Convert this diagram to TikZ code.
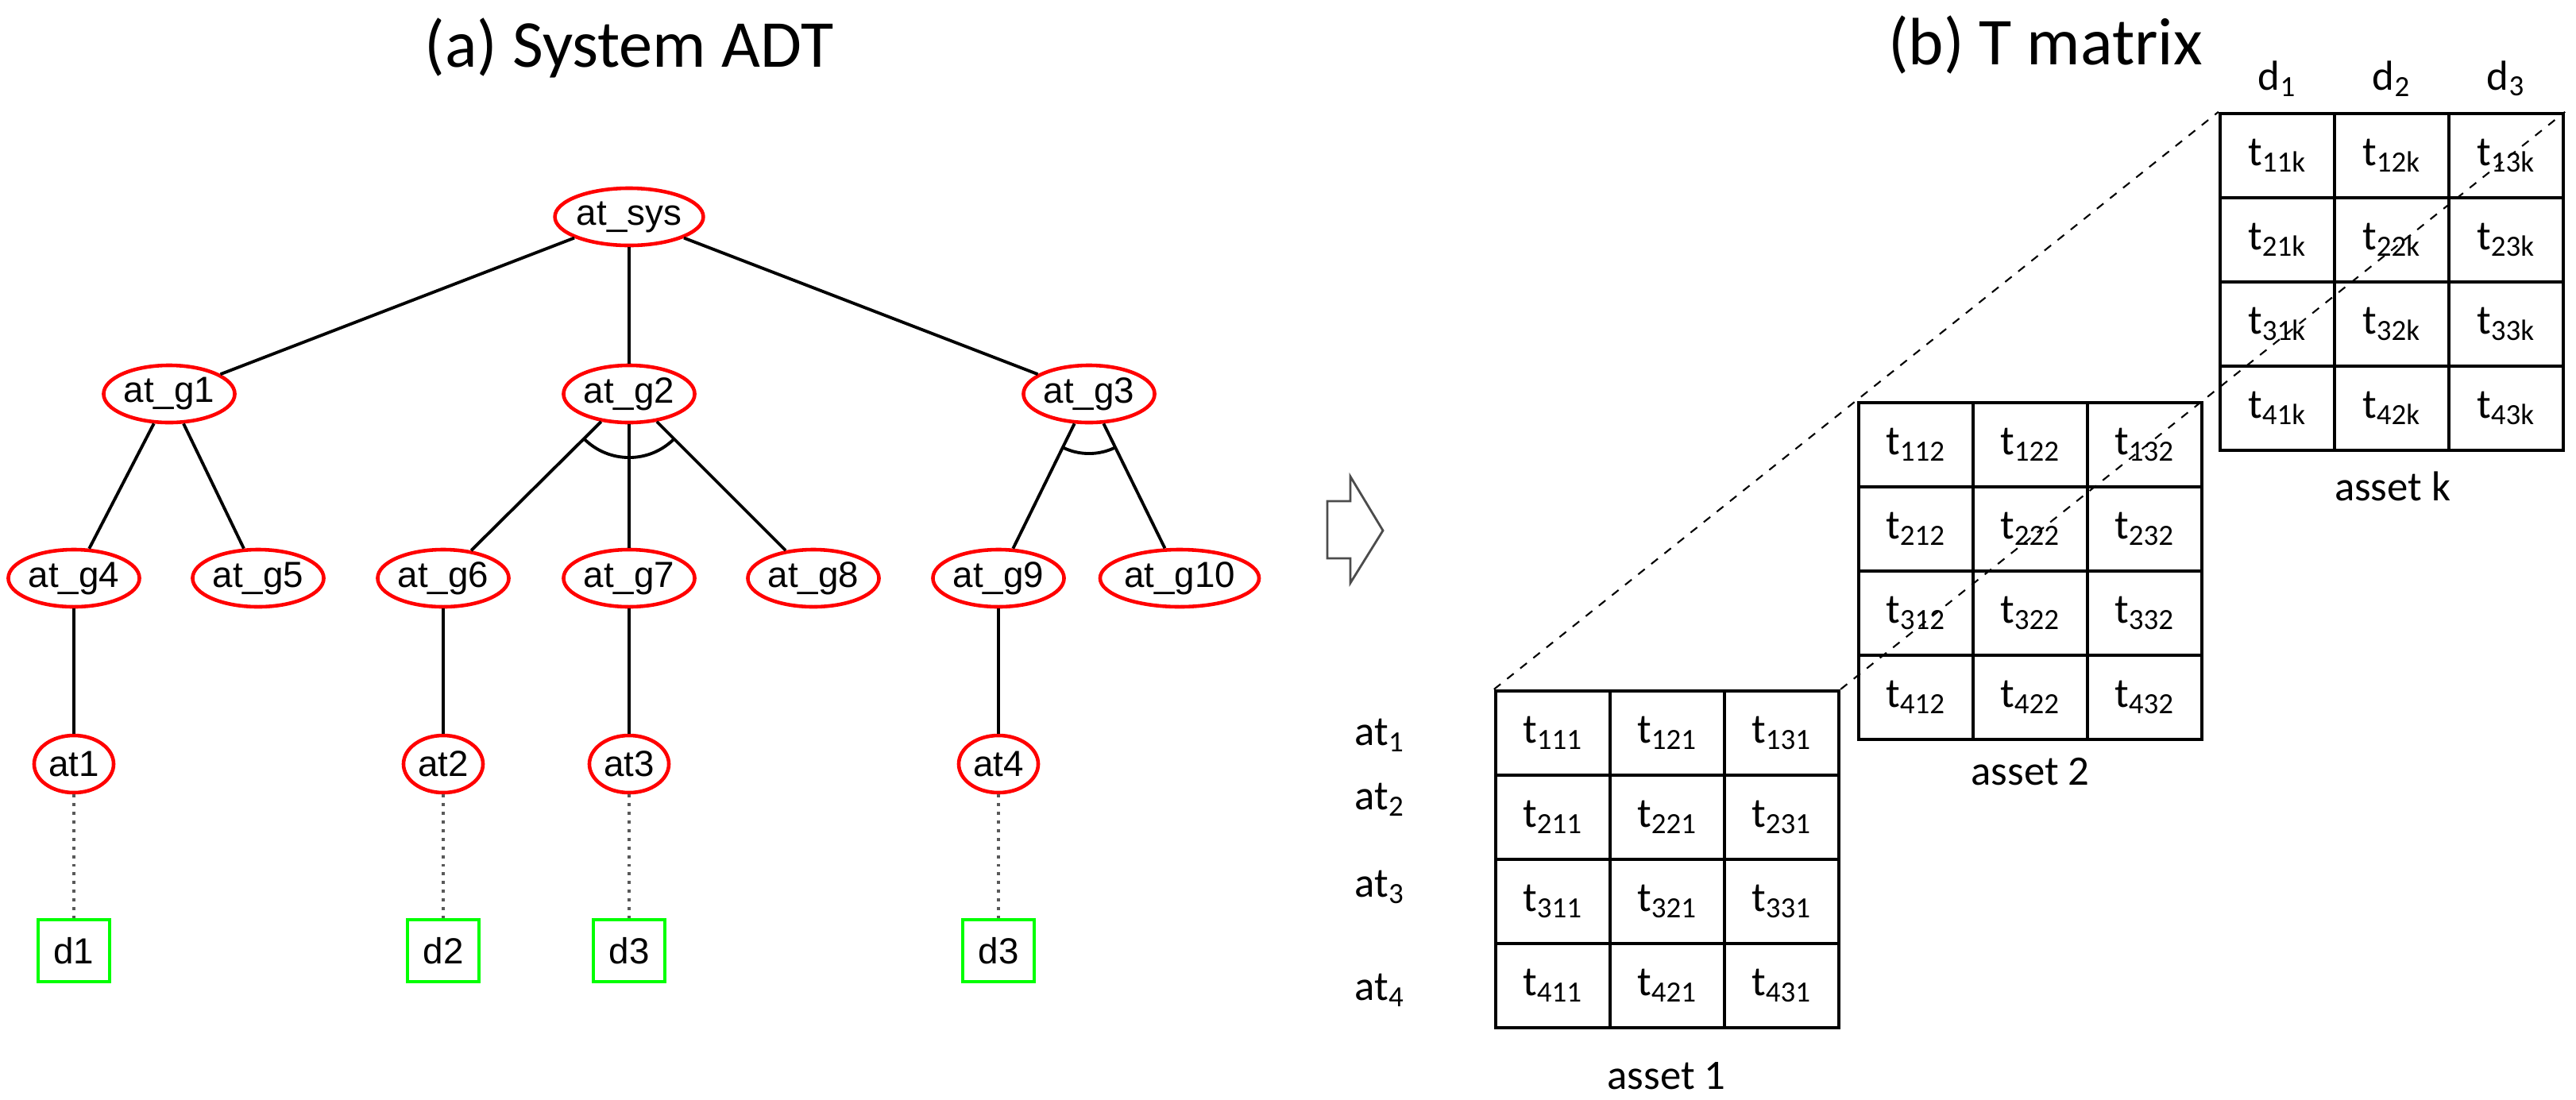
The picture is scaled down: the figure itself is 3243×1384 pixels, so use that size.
\documentclass[tikz,border=0pt]{standalone}
\usepackage{fontspec}
\setmainfont{Carlito}
\newfontfamily\arialf{Liberation Sans}
\usetikzlibrary{shapes.geometric}
\begin{document}
\begin{tikzpicture}[x=0.01cm,y=-0.01cm,
  tn/.style={draw=red,line width=1.3pt,ellipse,inner sep=0pt,minimum width=1.65cm,minimum height=0.72cm,font=\arialf\fontsize{13}{15}\selectfont},
  ln/.style={draw=red,line width=1.3pt,ellipse,inner sep=0pt,minimum width=1.0cm,minimum height=0.72cm,font=\arialf\fontsize{13}{15}\selectfont},
  dn/.style={draw=green,line width=1.3pt,inner sep=0pt,minimum width=0.9cm,minimum height=0.78cm,font=\arialf\fontsize{13}{15}\selectfont},
  ed/.style={line width=1.1pt},
  dt/.style={line width=1.1pt,dotted,gray!70!black},
  cell/.style={draw,line width=1.2pt,minimum width=1.44cm,minimum height=1.06cm,inner sep=0pt,font=\fontsize{15}{17}\selectfont},
  lab/.style={font=\fontsize{15}{17}\selectfont}]
\useasboundingbox (0,0) rectangle (3243,1384);
\node[font=\fontsize{24}{28}\selectfont] (ta) at (792,60) {(a) System ADT};
\node[font=\fontsize{24}{28}\selectfont] (tb) at (2575,56) {(b) T matrix};
% tree
\node[tn] (sys) at (792,273) {at\_sys};
\node[tn] (g1) at (213,496) {at\_g1};
\node[tn] (g2) at (792,496) {at\_g2};
\node[tn] (g3) at (1371,496) {at\_g3};
\node[tn] (g4) at (93,728) {at\_g4};
\node[tn] (g5) at (325,728) {at\_g5};
\node[tn] (g6) at (558,728) {at\_g6};
\node[tn] (g7) at (792,728) {at\_g7};
\node[tn] (g8) at (1024,728) {at\_g8};
\node[tn] (g9) at (1257,728) {at\_g9};
\node[tn,minimum width=2.0cm] (g10) at (1485,728) {at\_g10};
\node[ln] (a1) at (93,962) {at1};
\node[ln] (a2) at (558,962) {at2};
\node[ln] (a3) at (792,962) {at3};
\node[ln] (a4) at (1257,962) {at4};
\node[dn] (d1) at (93,1197) {d1};
\node[dn] (d2) at (558,1197) {d2};
\node[dn] (d3) at (792,1197) {d3};
\node[dn] (d4) at (1257,1197) {d3};
\foreach \a/\b in {sys/g1,sys/g2,sys/g3,g1/g4,g1/g5,g2/g6,g2/g7,g2/g8,g3/g9,g3/g10,g4/a1,g6/a2,g7/a3,g9/a4}
  \draw[ed] (\a) -- (\b);
\foreach \a/\b in {a1/d1,a2/d2,a3/d3,a4/d4}
  \draw[dt] (\a) -- (\b);
\draw[ed] ([shift={(-135:0.8cm)}]g2.center) arc[start angle=-135,end angle=-45,radius=0.8cm];
\draw[ed] ([shift={(-116:0.75cm)}]g3.center) arc[start angle=-116,end angle=-64,radius=0.75cm];
% hollow arrow
\draw[line width=0.8pt,gray!60!black,line join=miter] (1671,631) -- (1700,631) -- (1700,600) -- (1741,668) -- (1700,734) -- (1700,703) -- (1671,703) -- cycle;
% matrices
\foreach \n/\x/\y/\s in {A/1883/870/1,B/2340/507/2,K/2795/143/k}{
  \foreach \r in {1,...,4}{
    \foreach \c in {1,...,3}{
      \node[cell] (\n\r\c) at ({\x+72+144*(\c-1)},{\y+53+106*(\r-1)}) {t\textsubscript{\r\c\s}};
    }
  }
}
\node[lab] (la) at (2098,1355) {asset 1};
\node[lab] (lb) at (2556,972) {asset 2};
\node[lab] (lk) at (3012,612) {asset k};
\foreach \r/\yy in {1/926,2/1007,3/1117,4/1247}
  \node[lab] (at\r) at (1737,\yy) {at\textsubscript{\r}};
\node[lab] (dd1) at (2867,99) {d\textsubscript{1}};
\node[lab] (dd2) at (3011,99) {d\textsubscript{2}};
\node[lab] (dd3) at (3155,99) {d\textsubscript{3}};
\draw[dashed,line width=0.6pt] (A11.north west) -- (K11.north west);
\draw[dashed,line width=0.6pt] (A13.north east) -- (K13.north east);
\end{tikzpicture}
\end{document}
